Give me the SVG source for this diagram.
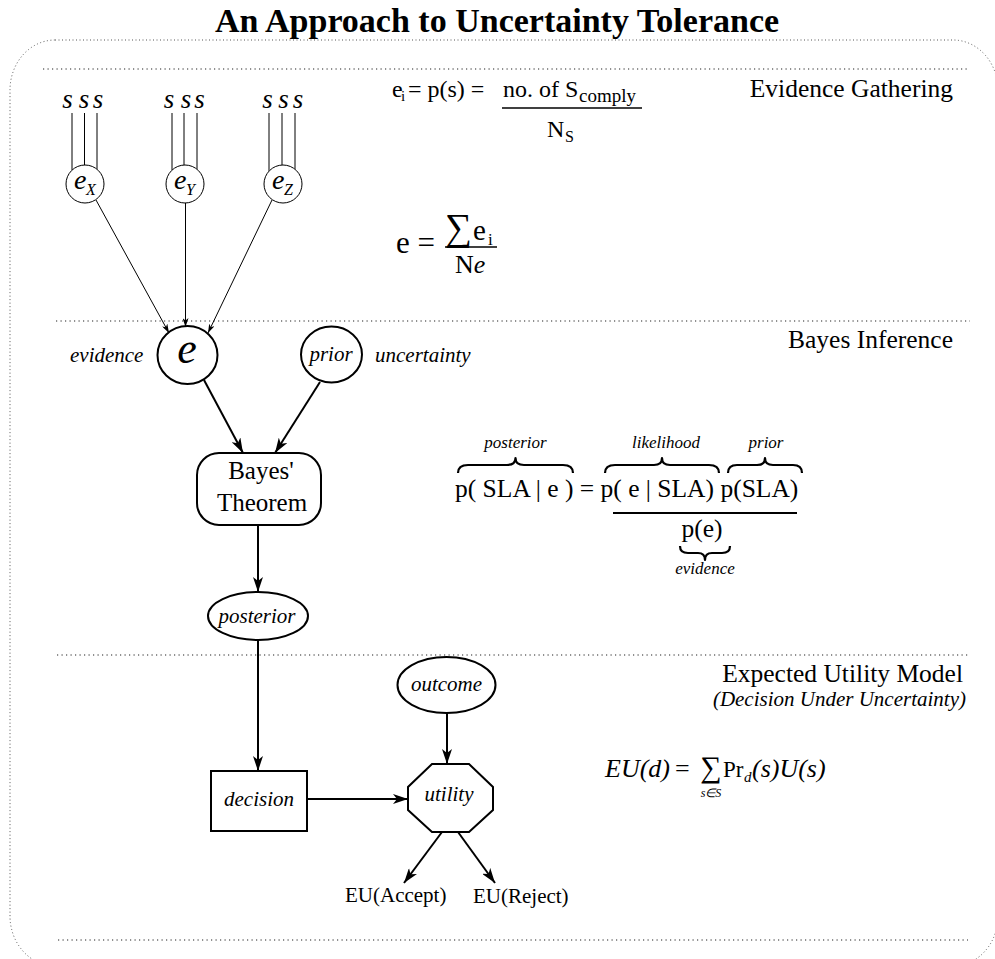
<svg xmlns="http://www.w3.org/2000/svg" width="995" height="959" viewBox="0 0 995 959">
<style>
text{font-family:"Liberation Serif","Times New Roman",serif;fill:#000}
.it{font-style:italic}
.sec{font-size:25.5px;text-anchor:end}
.lbl{font-size:21px;font-style:italic}
.node{fill:#fff;stroke:#000;stroke-width:2}
.snode{fill:#fff;stroke:#000;stroke-width:1}
.dot{fill:none;stroke:#222;stroke-width:1.2;stroke-dasharray:1.2 3.3}
.frame{fill:none;stroke:#555;stroke-width:1;stroke-dasharray:1 2.5}
.thin{stroke:#000;stroke-width:1;fill:none}
.thick{stroke:#000;stroke-width:2;fill:none}
.brace{stroke:#000;stroke-width:2.2;fill:none;stroke-linejoin:round}
</style>
<defs>
<marker id="ah" viewBox="0 0 15 10" refX="15" refY="5" markerWidth="15" markerHeight="10" markerUnits="userSpaceOnUse" orient="auto">
<path d="M0,0 L15,5 L0,10 L4,5 Z" fill="#000"/>
</marker>
<marker id="ahs" viewBox="0 0 9 6" refX="9" refY="3" markerWidth="9" markerHeight="6" markerUnits="userSpaceOnUse" orient="auto">
<path d="M0,0 L9,3 L0,6 L2.5,3 Z" fill="#000"/>
</marker>
</defs>

<rect width="995" height="959" fill="#fff"/>
<text x="497" y="32" font-size="34" font-weight="bold" text-anchor="middle">An Approach to Uncertainty Tolerance</text>

<g id="frame">
<rect class="frame" x="10" y="40" width="988" height="926" rx="45" ry="50"/>
<line class="dot" x1="43" y1="69" x2="970" y2="69"/>
<line class="dot" x1="56" y1="321" x2="970" y2="321"/>
<line class="dot" x1="57" y1="655" x2="968" y2="655"/>
<line class="dot" x1="58" y1="940" x2="968" y2="940"/>
</g>

<g id="section-labels">
<text class="sec" x="953" y="97">Evidence Gathering</text>
<text class="sec" x="953" y="348">Bayes Inference</text>
<text class="sec" x="963" y="682">Expected Utility Model</text>
<text class="it" x="966" y="706" font-size="21" text-anchor="end">(Decision Under Uncertainty)</text>
</g>

<g id="connectors">
<g class="thin">
<line x1="72" y1="113" x2="72" y2="170"/>
<line x1="84.5" y1="113" x2="84.5" y2="165"/>
<line x1="97" y1="113" x2="97" y2="169"/>
<line x1="172" y1="113" x2="172" y2="170"/>
<line x1="184" y1="113" x2="184" y2="165"/>
<line x1="197" y1="113" x2="197" y2="169"/>
<line x1="269" y1="113" x2="269" y2="171"/>
<line x1="282" y1="113" x2="282" y2="165"/>
<line x1="295" y1="113" x2="295" y2="169"/>
<line x1="96" y1="200" x2="169" y2="333" marker-end="url(#ahs)"/>
<line x1="185.5" y1="203" x2="185.5" y2="327" marker-end="url(#ahs)"/>
<line x1="272" y1="200" x2="208" y2="333" marker-end="url(#ahs)"/>
</g>
<g class="thick">
<line x1="204" y1="380" x2="243" y2="453" marker-end="url(#ah)"/>
<line x1="320" y1="382" x2="275" y2="453" marker-end="url(#ah)"/>
<line x1="258" y1="525" x2="258" y2="592" marker-end="url(#ah)"/>
<line x1="258" y1="640" x2="258" y2="771" marker-end="url(#ah)"/>
<line x1="447" y1="713" x2="447" y2="764" marker-end="url(#ah)"/>
<line x1="307" y1="799" x2="408" y2="799" marker-end="url(#ah)"/>
<line x1="442" y1="832" x2="404" y2="883" marker-end="url(#ah)"/>
<line x1="458" y1="832" x2="495" y2="883" marker-end="url(#ah)"/>
</g>
</g>

<g id="s-x">
<text class="it" font-size="27" x="67.5" y="108" text-anchor="middle">s</text>
<text class="it" font-size="27" x="84" y="108" text-anchor="middle">s</text>
<text class="it" font-size="27" x="98" y="108" text-anchor="middle">s</text>
</g>
<g id="s-y">
<text class="it" font-size="27" x="169" y="108" text-anchor="middle">s</text>
<text class="it" font-size="27" x="186" y="108" text-anchor="middle">s</text>
<text class="it" font-size="27" x="199.5" y="108" text-anchor="middle">s</text>
</g>
<g id="s-z">
<text class="it" font-size="27" x="267.5" y="108" text-anchor="middle">s</text>
<text class="it" font-size="27" x="283.5" y="108" text-anchor="middle">s</text>
<text class="it" font-size="27" x="298" y="108" text-anchor="middle">s</text>
</g>

<g id="eX">
<circle class="snode" cx="85" cy="184" r="19"/>
<text class="it" font-size="28" x="74" y="189">e</text>
<text class="it" font-size="16" x="86" y="195">X</text>
</g>
<g id="eY">
<circle class="snode" cx="185" cy="184" r="19"/>
<text class="it" font-size="28" x="174" y="189">e</text>
<text class="it" font-size="16" x="186" y="195">Y</text>
</g>
<g id="eZ">
<circle class="snode" cx="283" cy="184" r="19"/>
<text class="it" font-size="28" x="272" y="189">e</text>
<text class="it" font-size="16" x="284" y="195">Z</text>
</g>

<g id="formula-ei">
<text font-size="24" x="392" y="97">e</text>
<text font-size="15" x="401" y="101">i</text>
<text font-size="24" x="408" y="97">= p(s) =</text>
<text font-size="24" x="503" y="97">no. of</text>
<text font-size="24" x="565" y="97">S</text>
<text font-size="19" x="579" y="102">comply</text>
<line x1="502" y1="108" x2="642" y2="108" stroke="#000" stroke-width="1.6"/>
<text font-size="24" x="547" y="137">N</text>
<text font-size="16" x="565" y="142">S</text>
</g>

<g id="formula-e">
<text font-size="31" x="396" y="253">e =</text>
<text font-size="38" x="445" y="240">∑</text>
<text font-size="29" x="473" y="240">e</text>
<text font-size="17" x="488" y="245">i</text>
<line x1="445" y1="247" x2="497" y2="247" stroke="#000" stroke-width="1.7"/>
<text font-size="26" x="455" y="273">N<tspan class="it">e</tspan></text>
</g>

<g id="e">
<ellipse class="node" cx="187.5" cy="355" rx="30" ry="29"/>
<text class="it" font-size="44" x="187" y="363" text-anchor="middle">e</text>
</g>
<text class="lbl" x="70" y="362">evidence</text>
<g id="prior">
<ellipse class="node" cx="331.5" cy="354.5" rx="30.5" ry="28"/>
<text class="lbl" x="331" y="361" text-anchor="middle">prior</text>
</g>
<text class="lbl" x="375" y="362">uncertainty</text>

<g id="bayes">
<rect class="node" x="197" y="453" width="124" height="72" rx="22" ry="22"/>
<text font-size="25" x="261" y="479" text-anchor="middle">Bayes'</text>
<text font-size="25" x="262" y="511" text-anchor="middle">Theorem</text>
</g>

<g id="posterior">
<ellipse class="node" cx="258" cy="616" rx="50" ry="24"/>
<text class="lbl" x="257" y="623" text-anchor="middle">posterior</text>
</g>

<g id="formula-bayes">
<text font-size="25.5" x="455" y="497">p( SLA | e ) = p( e | SLA) p(SLA)</text>
<path class="brace" d="M458,473 Q458,465 468,465 L507,465 Q515.5,465 515.5,458 Q515.5,465 524,465 L563,465 Q573,465 573,473"/>
<path class="brace" d="M605,473 Q605,465 615,465 L654,465 Q662,465 662,458 Q662,465 670,465 L709,465 Q719,465 719,473"/>
<path class="brace" d="M728,473 Q728,465 737,465 L757,465 Q765,465 765,458 Q765,465 773,465 L793,465 Q802,465 802,473"/>
<text class="it" font-size="17" x="515.5" y="448" text-anchor="middle">posterior</text>
<text class="it" font-size="17" x="666" y="448" text-anchor="middle">likelihood</text>
<text class="it" font-size="17" x="766" y="448" text-anchor="middle">prior</text>
<line x1="613" y1="513" x2="797" y2="513" stroke="#000" stroke-width="1.8"/>
<text font-size="25.5" x="702" y="537" text-anchor="middle">p(e)</text>
<path class="brace" d="M680,546 Q680,553 688,553 L698,553 Q705,553 705,560 Q705,553 712,553 L722,553 Q730,553 730,546"/>
<text class="it" font-size="17" x="705" y="574" text-anchor="middle">evidence</text>
</g>

<g id="outcome">
<ellipse class="node" cx="446.5" cy="685" rx="49" ry="28"/>
<text class="lbl" x="446.5" y="691" text-anchor="middle">outcome</text>
</g>
<g id="decision">
<rect class="node" x="211" y="771" width="96" height="60"/>
<text class="lbl" x="259" y="806" text-anchor="middle">decision</text>
</g>
<g id="utility">
<polygon class="node" points="432,764 469,764 493,787 493,810 469,832 432,832 408,810 408,787"/>
<text class="lbl" x="449" y="801" text-anchor="middle">utility</text>
</g>
<g id="eu-accept"><text font-size="21" x="345" y="902">EU(Accept)</text></g>
<g id="eu-reject"><text font-size="21" x="473" y="903">EU(Reject)</text></g>

<g id="formula-eu">
<text class="it" font-size="26" x="605" y="777">EU(d)</text>
<text font-size="26" x="675" y="777">=</text>
<text font-size="30" x="711" y="777" text-anchor="middle">∑</text>
<text class="it" font-size="12" x="711" y="797" text-anchor="middle">s∈S</text>
<text font-size="23" x="723" y="777">Pr</text>
<text class="it" font-size="15" x="744" y="782">d</text>
<text class="it" font-size="26" x="752" y="777">(s)U(s)</text>
</g>
</svg>
